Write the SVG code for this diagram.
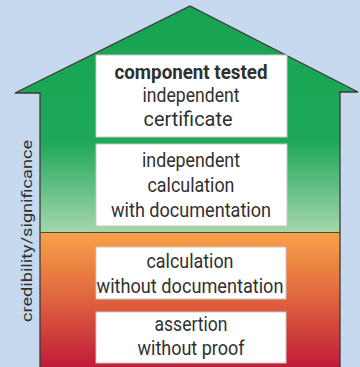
<svg xmlns="http://www.w3.org/2000/svg" width="360" height="367" viewBox="0 0 360 367">
  <defs>
    <linearGradient id="gGreen" x1="0" y1="0" x2="0" y2="1" gradientUnits="objectBoundingBox">
      <stop offset="0" stop-color="#17a452"/>
      <stop offset="0.6" stop-color="#1fa85a"/>
      <stop offset="1" stop-color="#a5d6ac"/>
    </linearGradient>
    <linearGradient id="gRed" x1="0" y1="0" x2="0" y2="1">
      <stop offset="0" stop-color="#f8a248"/>
      <stop offset="0.45" stop-color="#e26a3e"/>
      <stop offset="1" stop-color="#c01a3a"/>
    </linearGradient>
    <style>
      .box { fill: #ffffff; stroke: #c8c8c0; stroke-width: 1; }
      .t { font-family: Roboto, "Liberation Sans", sans-serif; font-size: 19.5px; fill: #303030; text-anchor: middle; }
      .b { font-weight: bold; }
      .edge { fill: none; stroke: #3a3a3a; stroke-width: 1.3; stroke-linejoin: miter; }
    </style>
  </defs>
  <rect x="0" y="0" width="360" height="367" fill="#c6d9ee"/>
  <g id="house">
    <path d="M40,232 L40,93 L15,93 L190,6 L358,92 L340,92 L340,232 Z" fill="url(#gGreen)"/>
    <rect x="40" y="232" width="300" height="136" fill="url(#gRed)"/>
    <path class="edge" d="M40,368 L40,93 L15,93 L190,6 L358,92 L340,92 L340,368"/>
    <line x1="40" y1="232.5" x2="340" y2="232.5" stroke="#4a4a3a" stroke-width="1.2"/>
  </g>
  <g id="axis-label">
    <text class="t" x="0" y="0" transform="translate(32,231) rotate(-90)" style="font-size:15.5px" textLength="182" lengthAdjust="spacingAndGlyphs">credibility/significance</text>
  </g>
  <g id="node-component-tested">
    <rect class="box" x="96" y="55" width="191" height="82"/>
    <text class="t b" x="191" y="79" textLength="153" lengthAdjust="spacingAndGlyphs">component tested</text>
    <text class="t" x="191" y="102" textLength="97" lengthAdjust="spacingAndGlyphs">independent</text>
    <text class="t" x="188" y="126" textLength="89" lengthAdjust="spacingAndGlyphs">certificate</text>
  </g>
  <g id="node-independent-calculation">
    <rect class="box" x="96" y="144" width="191" height="82"/>
    <text class="t" x="191" y="167" textLength="98" lengthAdjust="spacingAndGlyphs">independent</text>
    <text class="t" x="191" y="192" textLength="87" lengthAdjust="spacingAndGlyphs">calculation</text>
    <text class="t" x="191" y="217" textLength="160" lengthAdjust="spacingAndGlyphs">with documentation</text>
  </g>
  <g id="node-calculation">
    <rect class="box" x="96" y="247" width="190" height="52"/>
    <text class="t" x="190" y="268" textLength="87" lengthAdjust="spacingAndGlyphs">calculation</text>
    <text class="t" x="190" y="293" textLength="187" lengthAdjust="spacingAndGlyphs">without documentation</text>
  </g>
  <g id="node-assertion">
    <rect class="box" x="96" y="312" width="190" height="51"/>
    <text class="t" x="191" y="331" textLength="73" lengthAdjust="spacingAndGlyphs">assertion</text>
    <text class="t" x="191" y="355" textLength="107" lengthAdjust="spacingAndGlyphs">without proof</text>
  </g>
  <g id="connectors"/>
</svg>
